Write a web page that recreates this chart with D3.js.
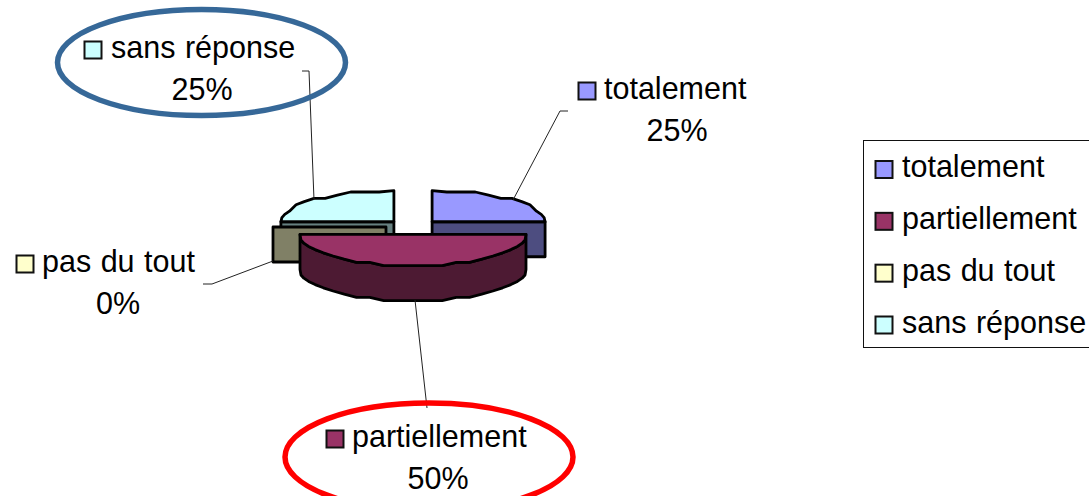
<!DOCTYPE html>
<html>
<head>
<meta charset="utf-8">
<script src="https://cdn.jsdelivr.net/npm/d3@7"></script>
<style>
  html, body { margin: 0; padding: 0; background: #fff; overflow: hidden; }
  text { font-family: "Liberation Sans", Arial, sans-serif; font-size: 30.5px; word-spacing: 1px; fill: #000; }
</style>
</head>
<body>
<div id="chart"></div>
<script>
var categories = ["totalement", "partiellement", "pas du tout", "sans réponse"];
var values = [25, 50, 0, 25];

var width = 1089, height = 496;

// pie geometry (faked 3d, the way the old office charts look)
var cx = 413, cy = 227, radius = 113, squash = 0.275, depth = 35, explode = 27, wobble = 3.2;

// callout positions, same order as categories
var labelSwatchX = [578, 326, 16, 84];
var labelTextX = [604, 352, 42, 111];
var labelY = [99, 447, 272, 58];
var pctX = [677, 438, 118, 202];
var leaders = [
  [[568, 111], [560, 111], [513, 200]],
  [[427, 408], [415, 300]],
  [[203, 284], [212, 284], [273, 261]],
  [[302, 71], [309, 71], [314, 200]]
];

var color = d3.scaleOrdinal().domain(categories).range(["#9999ff", "#993366", "#ffffcc", "#ccffff"]);

function wallColor(c) {
  var r = d3.rgb(c);
  return d3.rgb(r.r * 0.5, r.g * 0.5, r.b * 0.5).formatHex();
}

var svg = d3.select("#chart").append("svg")
  .attr("width", width)
  .attr("height", height)
  .style("display", "block");

var pie = d3.pie().sort(null).value(function(d) { return d; });
var arcs = pie(values);
var pct = d3.format(".0%");
var total = d3.sum(values);
var line = d3.line().curve(d3.curveLinear);

function centre(d) {
  var mid = (d.startAngle + d.endAngle) / 2;
  return [cx + explode * Math.sin(mid), cy - explode * squash * Math.cos(mid)];
}

// rim of a slice, y snapped a bit so it gets that coarse wavy outline
function rim(c, a0, a1, dy) {
  var n = Math.max(1, Math.round(Math.abs(a1 - a0) / (Math.PI / 24)));
  return d3.range(n + 1).map(function(i) {
    var a = a0 + (a1 - a0) * i / n;
    var y = c[1] - radius * squash * Math.cos(a);
    var edge = i === 0 || i === n;
    return [c[0] + radius * Math.sin(a), (edge ? y : Math.round(y / wobble) * wobble) + dy];
  });
}

function drawSlice(i) {
  var d = arcs[i], c = centre(d), base = color(categories[i]), wall = wallColor(base);
  var g = svg.append("g").attr("class", "slice");

  function shape(pts, fill) {
    g.append("path")
      .attr("d", line(pts) + "Z")
      .attr("fill", fill)
      .attr("stroke", "#000")
      .attr("stroke-width", 2.8)
      .attr("stroke-linejoin", "round");
  }

  var outerTop = rim(c, d.startAngle, d.endAngle, 0);
  var sx = c[0] + radius * Math.sin(d.startAngle), ex = c[0] + radius * Math.sin(d.endAngle);

  if (d.endAngle - d.startAngle >= Math.PI) {
    // front half: curved outer wall
    shape(outerTop.concat(rim(c, d.endAngle, d.startAngle, depth)), wall);
  } else if (d.endAngle === d.startAngle) {
    // empty slice: only its radial wall shows
    shape([c, [sx, c[1]], [sx, c[1] + depth], [c[0], c[1] + depth]], wall);
    return;
  } else {
    // back quarter: flat radial wall along the horizontal edge
    var wx = Math.abs(Math.sin(d.startAngle)) > 0.5 ? sx : ex;
    shape([c, [wx, c[1]], [wx, c[1] + depth], [c[0], c[1] + depth]], wall);
  }
  shape([c].concat(outerTop), base);
}

// back to front
[3, 0, 2, 1].forEach(drawSlice);

// leader lines
svg.append("g").selectAll("path").data(leaders).enter().append("path")
  .attr("d", function(d) { return line(d); })
  .attr("fill", "none")
  .attr("stroke", "#222")
  .attr("stroke-width", 1);

// callout labels
var labels = svg.append("g").selectAll("g").data(categories).enter().append("g");
labels.append("rect")
  .attr("x", function(d, i) { return labelSwatchX[i] + 0.5; })
  .attr("y", function(d, i) { return labelY[i] - 16.5; })
  .attr("width", 17)
  .attr("height", 17)
  .attr("fill", function(d) { return color(d); })
  .attr("stroke", "#111")
  .attr("stroke-width", 2);
labels.append("text")
  .attr("x", function(d, i) { return labelTextX[i]; })
  .attr("y", function(d, i) { return labelY[i]; })
  .text(function(d) { return d; });
labels.append("text")
  .attr("x", function(d, i) { return pctX[i]; })
  .attr("y", function(d, i) { return labelY[i] + 42; })
  .attr("text-anchor", "middle")
  .text(function(d, i) { return pct(values[i] / total); });

// hand drawn highlight ellipses
svg.append("ellipse")
  .attr("cx", 201.5).attr("cy", 62.5).attr("rx", 144).attr("ry", 53)
  .attr("fill", "none").attr("stroke", "#366898").attr("stroke-width", 5.5);
svg.append("ellipse")
  .attr("cx", 429).attr("cy", 457).attr("rx", 144).attr("ry", 54)
  .attr("fill", "none").attr("stroke", "#ff0000").attr("stroke-width", 5.5);

// legend
var legendRow = d3.scalePoint().domain(categories).range([169.5, 325]);
svg.append("rect")
  .attr("x", 863.5).attr("y", 140.5).attr("width", 260).attr("height", 207)
  .attr("fill", "#fff").attr("stroke", "#111").attr("stroke-width", 1);
var legend = svg.append("g").selectAll("g").data(categories).enter().append("g")
  .attr("transform", function(d) { return "translate(0," + legendRow(d) + ")"; });
legend.append("rect")
  .attr("x", 875.5).attr("y", -8.5)
  .attr("width", 17).attr("height", 17)
  .attr("fill", function(d) { return color(d); })
  .attr("stroke", "#111").attr("stroke-width", 2);
legend.append("text")
  .attr("x", 902).attr("y", 7.5)
  .text(function(d) { return d; });
</script>
</body>
</html>
